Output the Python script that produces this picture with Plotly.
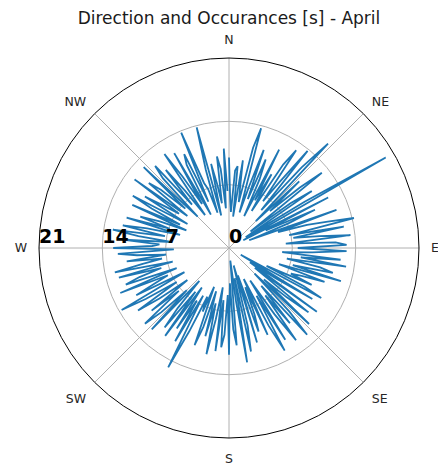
import plotly.graph_objects as go

# Wind direction in degrees (1.5-degree bins) and how often it occurred
directions = [i * 1.5 for i in range(240)]
occurrences = [
    10.0, 5.2, 4.0, 8.6, 9.1, 3.5, 9.8, 6.6, 5.2, 11.4,
    13.7, 4.1, 7.0, 11.5, 5.8, 10.6, 8.3, 3.9, 12.2, 6.0,
    9.4, 4.8, 11.0, 13.1, 6.4, 9.2, 13.8, 5.5, 12.0, 15.9,
    4.2, 10.7, 6.1, 10.3, 13.2, 3.0, 8.4, 11.1, 2.2, 9.8,
    20.0, 1.8, 12.3, 4.5, 10.4, 7.1, 2.4, 12.6, 5.7, 9.0,
    11.3, 14.2, 6.8, 12.9, 7.2, 10.1, 13.5, 6.3, 11.8, 13.0,
    7.6, 13.0, 9.2, 5.9, 12.4, 8.0, 13.1, 6.5, 10.3, 11.8,
    7.3, 12.9, 5.8, 11.2, 8.6, 7.4, 10.0, 4.6, 9.3, 11.6,
    1.5, 10.8, 6.2, 2.8, 12.0, 3.6, 11.3, 8.4, 5.2, 12.2,
    4.0, 9.7, 12.9, 5.5, 10.7, 6.6, 12.6, 8.9, 4.3, 11.9,
    6.1, 12.9, 9.6, 3.8, 10.5, 4.7, 7.9, 9.8, 3.2, 10.9,
    2.0, 8.8, 11.7, 3.4, 12.8, 6.0, 1.4, 10.8, 9.0, 3.9,
    11.8, 5.2, 9.6, 11.0, 5.8, 11.5, 4.4, 8.1, 12.0, 6.3,
    10.1, 5.0, 9.2, 11.4, 4.6, 7.6, 5.9, 10.2, 14.8, 6.0,
    11.9, 6.8, 10.6, 5.3, 12.0, 6.1, 11.3, 8.7, 4.9, 12.4,
    6.6, 10.3, 12.5, 7.3, 11.0, 5.8, 9.5, 12.2, 6.9, 10.8,
    13.7, 5.6, 11.5, 9.0, 7.4, 13.0, 6.2, 12.1, 10.4, 7.8,
    12.6, 6.4, 12.9, 9.8, 7.5, 11.4, 7.0, 10.2, 12.3, 6.1,
    12.8, 8.5, 7.7, 11.6, 6.3, 10.1, 13.0, 7.2, 12.0, 9.3,
    5.6, 11.8, 6.9, 10.4, 8.2, 5.1, 11.7, 6.0, 9.6, 12.1,
    5.3, 10.9, 8.5, 6.7, 12.9, 5.8, 11.4, 9.9, 6.5, 13.0,
    4.9, 10.6, 12.2, 6.3, 11.1, 8.0, 4.5, 12.6, 9.4, 5.7,
    12.1, 4.2, 10.3, 11.5, 5.6, 13.8, 7.7, 6.9, 4.1, 9.0,
    13.8, 3.7, 9.5, 7.2, 5.0, 10.2, 8.8, 4.4, 11.0, 6.3,
]

compass_angles = [0, 45, 90, 135, 180, 225, 270, 315]
compass_labels = ["N", "NE", "E", "SE", "S", "SW", "W", "NW"]
radial_ticks = [0, 7, 14, 21]
radial_labels = ["0", "7", "14", "21"]

fig = go.Figure()

fig.add_trace(go.Scatterpolar(
    theta=directions,
    r=occurrences,
    mode="lines",
    line=dict(color="#1f77b4", width=1.8),
    hoverinfo="skip",
))

# Radial tick labels drawn along the western spoke
fig.add_trace(go.Scatterpolar(
    theta=[270] * len(radial_ticks),
    r=radial_ticks,
    mode="text",
    text=radial_labels,
    textposition="top right",
    textfont=dict(family="DejaVu Sans", size=19, color="black", weight="bold"),
    cliponaxis=False,
    hoverinfo="skip",
))

fig.update_layout(
    width=438,
    height=464,
    margin=dict(l=39, r=19, t=58, b=26),
    paper_bgcolor="white",
    showlegend=False,
    font=dict(family="DejaVu Sans", color="black"),
    title=dict(
        text="Direction and Occurances [s] - April",
        x=229 / 438,
        xref="container",
        xanchor="center",
        y=1 - 18 / 464,
        yref="container",
        yanchor="middle",
        font=dict(size=17, color="#1a1a1a"),
    ),
    polar=dict(
        bgcolor="white",
        angularaxis=dict(
            rotation=90,
            direction="clockwise",
            tickmode="array",
            tickvals=compass_angles,
            ticktext=compass_labels,
            tickfont=dict(size=12.5, color="#262626"),
            showline=True,
            linecolor="black",
            linewidth=1,
            gridcolor="#b0b0b0",
            gridwidth=0.8,
            ticks="outside",
            ticklen=9,
            tickcolor="rgba(0,0,0,0)",
        ),
        radialaxis=dict(
            range=[0, 21],
            tickmode="array",
            tickvals=radial_ticks,
            showticklabels=False,
            ticks="",
            showline=False,
            gridcolor="#b0b0b0",
            gridwidth=0.8,
        ),
    ),
)

fig.write_html("out.html")
